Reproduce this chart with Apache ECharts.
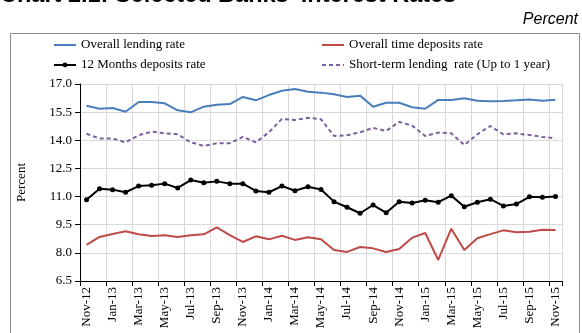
<!DOCTYPE html>
<html>
<head>
<meta charset="utf-8">
<script src="https://cdn.jsdelivr.net/npm/echarts@6/dist/echarts.min.js"></script>
<style>html,body{margin:0;padding:0;background:#fff;}#c{width:582px;height:333px;}</style>
</head>
<body>
<div id="c"></div>
<script>
const categories = ['Nov-12','Dec-12','Jan-13','Feb-13','Mar-13','Apr-13','May-13','Jun-13','Jul-13','Aug-13','Sep-13','Oct-13',
  'Nov-13','Dec-13','Jan-14','Feb-14','Mar-14','Apr-14','May-14','Jun-14','Jul-14','Aug-14','Sep-14','Oct-14',
  'Nov-14','Dec-14','Jan-15','Feb-15','Mar-15','Apr-15','May-15','Jun-15','Jul-15','Aug-15','Sep-15','Oct-15','Nov-15'];
const overallLending = [15.84,15.68,15.72,15.52,16.04,16.04,15.97,15.60,15.49,15.79,15.90,15.93,
  16.31,16.13,16.41,16.64,16.73,16.59,16.54,16.45,16.31,16.38,15.79,16.00,
  16.00,15.76,15.68,16.15,16.15,16.24,16.11,16.08,16.09,16.13,16.18,16.11,16.16];
const shortTermLending = [14.35,14.10,14.10,13.89,14.27,14.46,14.37,14.32,13.89,13.70,13.84,13.84,
  14.18,13.89,14.43,15.14,15.08,15.20,15.12,14.23,14.27,14.43,14.66,14.50,
  14.98,14.78,14.23,14.41,14.37,13.75,14.32,14.76,14.32,14.37,14.28,14.18,14.10];
const deposits12m = [10.83,11.42,11.37,11.23,11.56,11.60,11.69,11.46,11.88,11.74,11.81,11.69,
  11.69,11.30,11.23,11.56,11.31,11.52,11.38,10.73,10.43,10.11,10.55,10.14,
  10.73,10.66,10.80,10.70,11.05,10.46,10.70,10.86,10.50,10.60,10.99,10.96,11.01];
const timeDeposits = [8.43,8.85,9.00,9.15,8.99,8.90,8.94,8.85,8.94,8.99,9.36,8.94,
  8.58,8.88,8.72,8.91,8.69,8.83,8.72,8.15,8.05,8.31,8.24,8.05,
  8.21,8.81,9.06,7.62,9.29,8.15,8.78,9.00,9.20,9.10,9.13,9.23,9.22];
const yTicks = [6.5, 8.0, 9.5, 11.0, 12.5, 14.0, 15.5, 17.0];

const serif = 'Liberation Serif';
const noSym = {opacity: 0};
const chart = echarts.init(document.getElementById('c'), null, {renderer: 'canvas'});
chart.setOption({
  animation: false,
  backgroundColor: '#fff',
  graphic: [
    {type: 'rect', shape: {x: 10.5, y: 33.5, width: 569, height: 320}, style: {fill: 'none', stroke: '#8c8c8c', lineWidth: 1}, z: -1},
    {type: 'text', x: 0, y: -4.5, style: {text: "Chart 2.1: Selected Banks' Interest Rates", font: 'bold 23.5px "Liberation Sans"', fill: '#000', textVerticalAlign: 'middle'}},
    {type: 'text', x: 578, y: 20, style: {text: 'Percent', font: 'italic 16px "Liberation Sans"', fill: '#000', textAlign: 'right', textVerticalAlign: 'middle'}}
  ],
  legend: [
    {data: [{name: 'Overall lending rate', itemStyle: noSym}, {name: '12 Months deposits rate'}],
      orient: 'vertical', left: 48, top: 33, itemWidth: 22, itemHeight: 6, itemGap: 6,
      textStyle: {fontFamily: serif, fontSize: 13, color: '#000', lineHeight: 14}},
    {data: [{name: 'Overall time deposits rate', itemStyle: noSym}, {name: 'Short-term lending  rate (Up to 1 year)', itemStyle: noSym}],
      orient: 'vertical', left: 316, top: 33, itemWidth: 22, itemHeight: 6, itemGap: 6,
      textStyle: {fontFamily: serif, fontSize: 13, color: '#000', lineHeight: 14}}
  ],
  grid: {left: 80, right: 20, top: 84, bottom: 52, containLabel: false},
  xAxis: {
    type: 'category', data: categories, boundaryGap: true,
    axisLine: {lineStyle: {color: '#000', width: 1}},
    axisTick: {show: true, interval: 1, length: 5, lineStyle: {color: '#000'}},
    axisLabel: {interval: 1, rotate: 90, fontFamily: serif, fontSize: 13, color: '#000', margin: 6},
    splitLine: {show: true, interval: 1, lineStyle: {color: '#d9d9d9', width: 1}}
  },
  yAxis: {
    type: 'value', min: 6.5, max: 17.0, interval: 1.5,
    name: 'Percent', nameLocation: 'middle', nameGap: 52, nameRotate: 90,
    nameTextStyle: {fontFamily: serif, fontSize: 13, color: '#000'},
    axisLine: {show: true, lineStyle: {color: '#000', width: 1}},
    axisTick: {show: true, length: 5, inside: false, lineStyle: {color: '#000'}},
    axisLabel: {fontFamily: serif, fontSize: 13, color: '#000', margin: 8, formatter: v => v.toFixed(1)},
    splitLine: {show: true, lineStyle: {color: '#d9d9d9', width: 1}}
  },
  series: [
    {name: 'Overall lending rate', type: 'line', data: overallLending, symbol: 'none', color: '#4a7ebb', lineStyle: {width: 2, color: '#4a7ebb'}},
    {name: 'Overall time deposits rate', type: 'line', data: timeDeposits, symbol: 'none', color: '#be4b48', lineStyle: {width: 2, color: '#be4b48'}},
    {name: '12 Months deposits rate', type: 'line', data: deposits12m, symbol: 'circle', symbolSize: 5, color: '#000', itemStyle: {color: '#000'}, lineStyle: {width: 2, color: '#000'}},
    {name: 'Short-term lending  rate (Up to 1 year)', type: 'line', data: shortTermLending, symbol: 'none', color: '#7d5fa0', lineStyle: {width: 2, color: '#7d5fa0', type: [4, 3]}}
  ]
});
</script>
</body>
</html>
